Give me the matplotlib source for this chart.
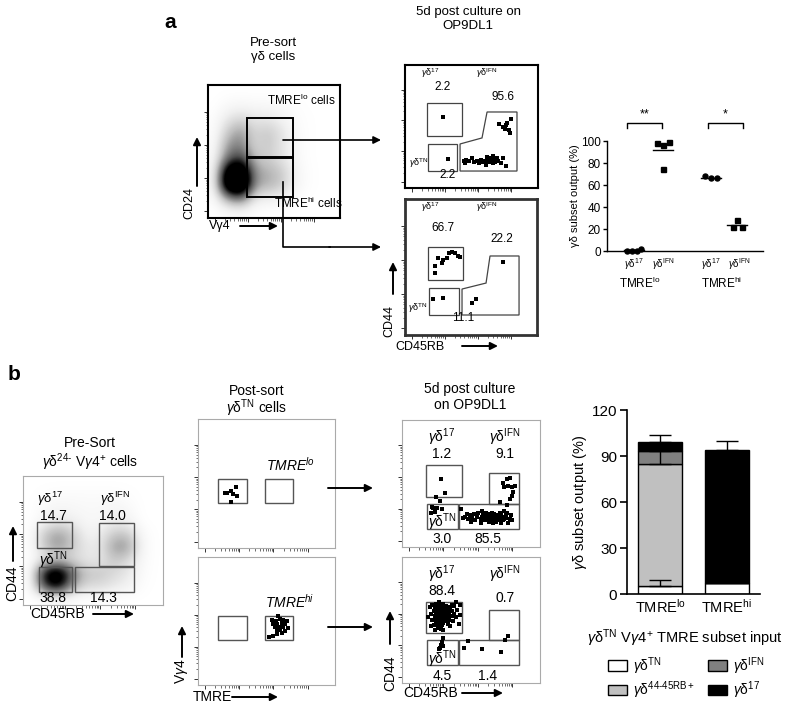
import numpy as np
import matplotlib
matplotlib.use("Agg")
import matplotlib.pyplot as plt
from matplotlib.patches import Rectangle, Polygon

plt.rcParams['font.family'] = ['Liberation Sans', 'DejaVu Sans']
plt.rcParams['mathtext.fontset'] = 'custom'
plt.rcParams['mathtext.rm'] = 'Liberation Sans'
plt.rcParams['mathtext.it'] = 'Liberation Sans:italic'
plt.rcParams['mathtext.bf'] = 'Liberation Sans:bold'

# data
#______________________________________________________________________________
# flow plots use 0-100 units on both axes (log-like display scale)

# a: pre-sort density (rows top -> bottom, cols left -> right)
a_presort_density = [
    [0,   0,   0,   0,   0,   0,   0,   0,    0, 0],
    [0,   0.3, 0.4, 0.3, 0.3, 0.2, 0.1, 0,    0, 0],
    [0.1, 1,   1.5, 1,   1,   0.6, 0.2, 0.05, 0, 0],
    [0.1, 2,   3,   1.5, 2,   1.2, 0.3, 0.05, 0, 0],
    [0.2, 3,   3.5, 1.5, 2,   1.2, 0.4, 0.05, 0, 0],
    [0.3, 4,   5,   2,   1.8, 1.2, 0.4, 0.05, 0, 0],
    [0.4, 8,   9,   3,   2.5, 2,   0.6, 0.1,  0, 0],
    [0.4, 9,   10,  3,   2.5, 2,   0.6, 0.1,  0, 0],
    [0.2, 3,   4,   1,   0.8, 0.6, 0.2, 0,    0, 0],
    [0,   0.2, 0.3, 0.1, 0,   0,   0,   0,    0, 0],
]
a_presort_gate_lo = (29.5, 45.9, 64.4, 75.2)
a_presort_gate_hi = (29.5, 15.8, 64.4, 45.1)

# a: 5d culture of TMRE lo
a_lo_gate17  = (16.5, 42.3, 42.9, 69.1)
a_lo_gateTN  = (17.3, 13.8, 39.1, 35.8)
a_lo_gateIFN = [(41.4, 35.8), (57.9, 40.7), (61.7, 61.8), (84.2, 61.8), (84.2, 13.8), (41.4, 13.8)]
a_lo_cells = [(28.6, 57.7), (32.3, 23.6),
              (44, 22), (46, 23), (48, 22), (50, 24), (52, 21), (54, 22), (56, 20), (57, 23),
              (59, 21), (60, 22), (62, 25), (63, 23), (63, 21), (64, 24), (65, 22), (66, 20),
              (66, 26), (67, 23), (68, 21), (69, 24), (70, 22), (72, 20), (74, 24), (76, 18),
              (45, 20), (61, 19),
              (71, 52), (74, 50), (75, 48), (77, 53), (78, 47), (79, 45), (80, 56), (76, 51)]

# a: 5d culture of TMRE hi
a_hi_gate17  = (17.4, 40.4, 43.9, 64.7)
a_hi_gateTN  = (18.2, 14.7, 40.9, 34.6)
a_hi_gateIFN = [(43.2, 33.8), (61.4, 38.2), (64.4, 58.1), (86.4, 58.1), (86.4, 14.7), (43.2, 14.7)]
a_hi_cells = [(22.7, 50.7), (22.7, 45.6), (25, 56.6), (28.8, 55.1), (28, 53), (31.8, 56.6),
              (33.3, 60.3), (35.6, 61), (37.9, 60.3), (40.2, 58.1), (41.7, 57.4),
              (21.2, 26.5), (28.8, 27.2),
              (74.2, 53.7), (50.8, 23.5), (53.8, 26.5)]

# a: subset output (%)
a_lo17  = [0, 0, 0, 2]
a_loIFN = [98, 96, 99, 75]
a_hi17  = [68, 66, 66]
a_hiIFN = [22, 22, 28]

# b: pre-sort density
b_presort_density = [
    [0, 0,   0,   0,   0,   0,   0,   0,   0,   0],
    [0, 0.1, 0.2, 0.2, 0.2, 0.2, 0.2, 0.1, 0,   0],
    [0, 0.3, 0.5, 0.4, 0.3, 0.3, 0.5, 0.3, 0,   0],
    [0, 0.5, 1,   0.8, 0.4, 0.4, 0.8, 0.6, 0,   0],
    [0, 2,   3,   2,   0.6, 0.8, 2,   2,   0.3, 0],
    [0, 2,   3,   2,   1,   1,   3,   3,   0.4, 0],
    [0, 1,   1.5, 1.5, 1,   1,   2,   1.5, 0.3, 0],
    [0, 6,   8,   4,   2,   2,   1.5, 1,   0.2, 0],
    [0, 5,   7,   3,   1.5, 1.5, 1,   0.7, 0.1, 0],
    [0, 0,   0.2, 0.1, 0,   0,   0,   0,   0,   0],
]
b_gate17  = (10, 44, 35, 64)
b_gateIFN = (54.3, 30.2, 79.3, 63.6)
b_gateTN  = (11.4, 10, 35, 29.5)
b_gate44  = (37, 10, 79.3, 29.5)

# b: post-sort
b_sort_gate1 = (14.6, 35.2, 35.8, 53.8)
b_sort_gate2 = (48.9, 35.2, 69.3, 53.8)
b_sort_lo = [(19.7, 42.6), (21.2, 42.6), (24.1, 44.2), (25.5, 41.9), (27.7, 47.3), (28.5, 40.3), (24.1, 35.7)]
b_sort_hi = [(58.4, 53.9), (54, 50.8), (56.9, 50), (59.9, 51.6), (62, 50.8), (65, 50), (54.7, 47.7),
             (57.7, 47.7), (61.3, 48.4), (63.5, 47.7), (56.2, 45.3), (59.1, 45.3), (62, 45.3),
             (65.7, 44.5), (57.7, 42.2), (59.9, 43), (63.5, 42.2), (57.7, 39.8), (54.7, 38.3),
             (51.8, 37.5), (61.3, 40.6)]

# b: 5d culture gates
b_cult_gate17  = (17.4, 39.4, 43.5, 64.6)
b_cult_gateIFN = (63, 33.9, 84.8, 58.3)
b_cult_gateTN  = (18.1, 14.2, 40.6, 33.9)
b_cult_gate44  = (41.3, 14.2, 84.8, 33.9)
b_cult_lo = [(28.3, 53.5), (31.2, 42.5), (24.6, 39.4), (27.5, 36.2),
             (76.1, 53.5), (78.3, 54.3), (73.2, 50.4), (73.9, 47.2), (76.8, 48), (79.7, 47.2),
             (81.9, 48), (80.4, 43.3), (79.7, 40.2), (78.3, 37.8), (71, 35.4), (76.1, 33.1),
             (21.7, 31.5), (22.5, 30.7), (25.4, 30.7), (29, 29.9), (21, 26.8), (23.9, 27.6),
             (42.8, 29.9),
             (46, 24), (48, 22), (49, 25), (51, 23), (52, 26), (53, 21), (54, 24), (55, 27),
             (50, 20), (47, 26), (57, 19), (58, 28), (78, 22), (79, 25), (77, 19), (80, 21),
             (76, 27), (74, 28), (72, 19), (44, 23),
             (57, 22), (58, 24), (59, 23), (60, 21), (60, 25), (61, 23), (62, 22), (62, 26),
             (63, 24), (64, 21), (64, 23), (65, 25), (66, 22), (66, 24), (67, 21), (67, 26),
             (68, 23), (69, 22), (69, 25), (70, 24), (70, 21), (71, 23), (72, 22), (72, 25),
             (73, 24), (74, 22), (75, 23), (75, 26), (63, 20), (68, 20), (61, 27), (65, 27),
             (71, 27), (59, 26), (66, 19), (73, 21)]
b_cult_hi = [(20, 60), (21, 55), (22, 50), (22, 62), (23, 57), (23, 46), (24, 53), (24, 60),
             (25, 49), (25, 56), (25, 63), (26, 52), (26, 58), (26, 44), (27, 55), (27, 61),
             (27, 48), (28, 53), (28, 57), (28, 50), (29, 55), (29, 60), (29, 46), (30, 52),
             (30, 57), (30, 63), (31, 54), (31, 49), (31, 59), (32, 56), (32, 51), (32, 61),
             (33, 53), (33, 47), (33, 58), (34, 55), (34, 50), (35, 60), (35, 45), (36, 53),
             (36, 57), (37, 49), (38, 55), (38, 61), (39, 52), (40, 58), (41, 47), (42, 54),
             (42, 62), (19, 52), (21, 45), (24, 42), (28, 43), (30, 42), (36, 62), (39, 64),
             (27, 64), (23, 50), (29, 51), (31, 52), (27, 51), (28, 59), (30, 48), (26, 47),
             (29.7, 35.7), (29, 32.5), (27.5, 27.8), (26.8, 27), (28, 30), (30, 29),
             (76.8, 37.3),
             (47.8, 33.3), (44.9, 27.8), (58, 27), (71.7, 24.6), (74.6, 34.1)]

# b: stacked bars (%)
b_inputs  = [r"TMRE$^{\mathrm{lo}}$", r"TMRE$^{\mathrm{hi}}$"]
b_TN      = [5, 7]
b_44      = [80, 0]
b_IFN     = [8, 0]
b_17      = [6, 87]
b_err_TN  = [4, 0]
b_err_44  = [8, 0]
b_err_top = [5, 6]

# layout helpers
#______________________________________________________________________________
W, H = 800, 709
fig = plt.figure(figsize=(8, 7.09), dpi=100)


def rect(l, t, r, b):
    return [l / W, 1 - b / H, (r - l) / W, (b - t) / H]


def flow_axes(box, color='k', lw=1.5):
    ax = fig.add_axes(rect(*box))
    ax.set_xlim(0, 100)
    ax.set_ylim(0, 100)
    for s in ax.spines.values():
        s.set_color(color)
        s.set_linewidth(lw)
    major = [5, 30, 55, 80]
    minor = [d + 25 * np.log10(k) for d in major[:-1] for k in range(2, 10)]
    ax.set_xticks(major)
    ax.set_yticks(major)
    ax.set_xticks(minor, minor=True)
    ax.set_yticks(minor, minor=True)
    ax.tick_params(which='major', length=3, width=0.7, color='#333333')
    ax.tick_params(which='minor', length=1.8, width=0.5, color='#333333')
    ax.tick_params(which='both', direction='out', labelbottom=False, labelleft=False)
    return ax


def gate(ax, g, color='#444444', lw=0.9):
    x0, y0, x1, y1 = g
    ax.add_patch(Rectangle((x0, y0), x1 - x0, y1 - y0, fill=False, ec=color, lw=lw))


def dots(ax, pts, ms=2.2):
    p = np.array(pts)
    ax.plot(p[:, 0], p[:, 1], 's', color='k', ms=ms, mew=0)


def density(ax, grid):
    ax.imshow(np.array(grid), extent=(0, 100, 0, 100), origin='upper', cmap='Greys',
              vmin=0, vmax=6, interpolation='bicubic', aspect='auto')
    ax.set_xlim(0, 100)
    ax.set_ylim(0, 100)


# panel a flow plots
#______________________________________________________________________________
ax = flow_axes((208, 85, 340, 218))
density(ax, a_presort_density)
gate(ax, a_presort_gate_lo, 'k', 1.4)
gate(ax, a_presort_gate_hi, 'k', 1.4)

ax = flow_axes((405, 65, 538, 188))
gate(ax, a_lo_gate17)
gate(ax, a_lo_gateTN)
ax.add_patch(Polygon(a_lo_gateIFN, closed=True, fill=False, ec='#444444', lw=0.9))
dots(ax, a_lo_cells)

ax = flow_axes((405, 199, 537, 335), '#333333', 2.0)
gate(ax, a_hi_gate17)
gate(ax, a_hi_gateTN)
ax.add_patch(Polygon(a_hi_gateIFN, closed=True, fill=False, ec='#444444', lw=0.9))
dots(ax, a_hi_cells)

# panel a dot plot
#______________________________________________________________________________
ax = fig.add_axes(rect(607, 141, 763, 251))
ax.set_xlim(0, 10)
ax.set_ylim(0, 100)
ax.spines[['top', 'right']].set_visible(False)
ax.spines[['left', 'bottom']].set_linewidth(1.0)
ax.set_xticks([])
ax.set_yticks(np.arange(0, 101, 20))
ax.tick_params(axis='y', labelsize=8.5, length=3, width=1, pad=1.5)
groups = [(1.75, a_lo17, 'o', [-0.45, -0.15, 0.15, 0.45]),
          (3.6, a_loIFN, 's', [-0.4, 0, 0.4, 0]),
          (6.65, a_hi17, 'o', [-0.4, 0, 0.4]),
          (8.35, a_hiIFN, 's', [-0.3, 0.3, 0])]
for xc, vals, mk, off in groups:
    ax.plot(xc + np.array(off), vals, mk, color='k', ms=3.6, clip_on=False)
    ax.plot([xc - 0.65, xc + 0.65], [np.mean(vals)] * 2, color='k', lw=1.0, clip_on=False)
for x0, x1, star in [(1.3, 3.5, '**'), (6.5, 8.7, '*')]:
    ax.plot([x0, x0, x1, x1], [112, 116, 116, 112], color='k', lw=1.0, clip_on=False)
    ax.text((x0 + x1) / 2, 119, star, ha='center', va='bottom', fontsize=9)

# panel b flow plots
#______________________________________________________________________________
gc = '#555555'
ax = flow_axes((23, 476, 163, 605), '#aaaaaa', 0.8)
density(ax, b_presort_density)
for g in (b_gate17, b_gateIFN, b_gateTN, b_gate44):
    gate(ax, g, gc, 1.0)

ax = flow_axes((198, 419, 335, 548), '#aaaaaa', 0.8)
gate(ax, b_sort_gate1, gc, 1.0)
gate(ax, b_sort_gate2, gc, 1.0)
dots(ax, b_sort_lo)

ax = flow_axes((198, 557, 335, 685), '#aaaaaa', 0.8)
gate(ax, b_sort_gate1, gc, 1.0)
gate(ax, b_sort_gate2, gc, 1.0)
dots(ax, b_sort_hi)

ax = flow_axes((402, 420, 540, 547), '#aaaaaa', 0.8)
for g in (b_cult_gate17, b_cult_gateIFN, b_cult_gateTN, b_cult_gate44):
    gate(ax, g, gc, 1.0)
dots(ax, b_cult_lo)

ax = flow_axes((402, 557, 540, 683), '#aaaaaa', 0.8)
for g in (b_cult_gate17, b_cult_gateIFN, b_cult_gateTN, b_cult_gate44):
    gate(ax, g, gc, 1.0)
dots(ax, b_cult_hi)

# panel b stacked bars
#______________________________________________________________________________
ax = fig.add_axes(rect(627, 410, 760, 594))
xb = np.array([0, 1.5])
TN, S44, IFN, S17 = map(np.array, (b_TN, b_44, b_IFN, b_17))
h1 = ax.bar(xb, TN, 1.0, color='white', ec='k', lw=1)
h2 = ax.bar(xb, S44, 1.0, bottom=TN, color='#c0c0c0', ec='k', lw=1)
h3 = ax.bar(xb, IFN, 1.0, bottom=TN + S44, color='#808080', ec='k', lw=1)
h4 = ax.bar(xb, S17, 1.0, bottom=TN + S44 + IFN, color='black', ec='k', lw=1)
eb = dict(fmt='none', ecolor='k', elinewidth=1, capsize=8, capthick=1)
ax.errorbar(xb[:1], TN[:1], yerr=[[0], b_err_TN[:1]], **eb)
ax.errorbar(xb[:1], (TN + S44)[:1], yerr=[[0], b_err_44[:1]], **eb)
top = TN + S44 + IFN + S17
ax.errorbar(xb, top, yerr=[[0, 0], b_err_top], **eb)
ax.set_xlim(-0.75, 2.25)
ax.set_ylim(0, 120)
ax.set_yticks([0, 30, 60, 90, 120])
ax.set_xticks(xb, b_inputs)
ax.spines[['top', 'right']].set_visible(False)
ax.spines[['left', 'bottom']].set_linewidth(1.2)
ax.tick_params(axis='y', labelsize=11, length=5, width=1.2, pad=2)
ax.tick_params(axis='x', labelsize=10.5, length=0, pad=3)
ax.set_ylabel(r"$\gamma$δ subset output (%)", fontsize=10.5, labelpad=2)
ax.legend([h1, h2, h3, h4],
          [r"$\gamma$δ$^{\mathrm{TN}}$", r"$\gamma$δ$^{\mathrm{44\text{-}45RB+}}$",
           r"$\gamma$δ$^{\mathrm{IFN}}$", r"$\gamma$δ$^{\mathrm{17}}$"],
          ncol=2, frameon=False, fontsize=10, handlelength=1.4, handleheight=0.8,
          columnspacing=0.9, handletextpad=0.4, labelspacing=0.2,
          borderaxespad=0, borderpad=0,
          loc='upper left', bbox_to_anchor=(608 / W, 1 - 655 / H), bbox_transform=fig.transFigure)

# overlay: labels and arrows in pixel units
#______________________________________________________________________________
ov = fig.add_axes([0, 0, 1, 1], zorder=10)
ov.set_xlim(0, W)
ov.set_ylim(H, 0)
ov.axis('off')
ov.patch.set_alpha(0)


def t(x, y, s, size=9, **kw):
    ov.text(x, y, s, fontsize=size, ha=kw.pop('ha', 'center'), va=kw.pop('va', 'center'), **kw)


def arrow(x0, y0, x1, y1, lw=1.4):
    ov.annotate('', xy=(x1, y1), xytext=(x0, y0),
                arrowprops=dict(arrowstyle='-|>', color='k', lw=lw, mutation_scale=11, shrinkA=0, shrinkB=0))


g17 = r"$\gamma$δ$^{\mathrm{17}}$"
gIFN = r"$\gamma$δ$^{\mathrm{IFN}}$"
gTN = r"$\gamma$δ$^{\mathrm{TN}}$"

# a
t(170, 22, "a", 15, fontweight='bold')
t(273, 43, "Pre-sort", 9.5)
t(273, 57, "γδ cells", 9.5)
t(468, 12, "5d post culture on", 9.5)
t(468, 26, "OP9DL1", 9.5)
t(301, 100, r"TMRE$^{\mathrm{lo}}$ cells", 8.5)
t(308, 203, r"TMRE$^{\mathrm{hi}}$ cells", 8.5)
t(189, 203, "CD24", 9, rotation=90)
arrow(197, 186, 197, 137)
t(220, 226, "Vγ4", 9)
arrow(240, 226, 278, 226)
arrow(283, 140, 381, 140, 1.2)
ov.plot([283, 283, 330], [182, 247, 247], color='k', lw=1.2)
arrow(329, 247, 381, 247, 1.2)

for dy in (0, 134):
    t(430, 73 + dy, g17, 6.5)
    t(487, 73 + dy, gIFN, 6.5)
t(419, 163, gTN, 6.5)
t(418, 308, gTN, 6.5)
t(443, 87, "2.2", 8.5)
t(503, 97, "95.6", 8.5)
t(448, 175, "2.2", 8.5)
t(443, 228, "66.7", 8.5)
t(502, 239, "22.2", 8.5)
t(463, 318, "11.1", 8.5)
t(389, 321, "CD44", 9, rotation=90)
arrow(393, 294, 393, 262)
t(420, 347, "CD45RB", 9)
arrow(462, 346, 498, 346)

t(634, 264, g17, 7)
t(663, 264, gIFN, 7)
t(711, 264, g17, 7)
t(739, 264, gIFN, 7)
t(640, 283, r"TMRE$^{\mathrm{lo}}$", 8.5)
t(722, 283, r"TMRE$^{\mathrm{hi}}$", 8.5)
t(575, 196, "γδ subset output (%)", 8, rotation=90)

# b
t(14, 375, "b", 15, fontweight='bold')
t(90, 443, "Pre-Sort", 10)
t(90, 462, r"$\gamma$δ$^{\mathrm{24\text{-}}}$ V$\gamma$4$^{\mathrm{+}}$ cells", 10)
t(50, 499, g17, 9.5)
t(53, 516, "14.7", 10)
t(115, 499, gIFN, 9.5)
t(112, 516, "14.0", 10)
t(53, 560, gTN, 10)
t(53, 598, "38.8", 10)
t(103, 598, "14.3", 10)
t(12, 583, "CD44", 10, rotation=90)
arrow(13, 561, 13, 526)
t(58, 614, "CD45RB", 10)
arrow(93, 614, 134, 614)

t(257, 391, "Post-sort", 10)
t(257, 408, gTN + " cells", 10)
t(290, 465, "TMRE$^{lo}$", 10, fontstyle='italic')
t(290, 602, "TMRE$^{hi}$", 10, fontstyle='italic')
t(182, 671, r"V$\gamma$4", 10, rotation=90)
arrow(182, 657, 182, 626)
t(212, 697, "TMRE", 10)
arrow(232, 697, 278, 697)
arrow(328, 488, 373, 488)
arrow(328, 627, 373, 627)

t(470, 389, "5d post culture", 10)
t(470, 405, "on OP9DL1", 10)
for dy, vals in ((0, ("1.2", "9.1", "3.0", "85.5")), (137, ("88.4", "0.7", "4.5", "1.4"))):
    t(442, 437 + dy, g17, 10)
    t(442, 454 + dy, vals[0], 10)
    t(505, 437 + dy, gIFN, 10)
    t(442, 522 + dy, gTN, 10)
    t(442, 539 + dy, vals[2], 10)
    t(488, 539 + dy, vals[3], 10)
t(505, 454, "9.1", 10)
t(505, 598, "0.7", 10)
t(390, 673, "CD44", 10, rotation=90)
arrow(390, 644, 390, 611)
t(431, 693, "CD45RB", 10)
arrow(462, 693, 503, 693)

t(685, 638, gTN + r" V$\gamma$4$^{\mathrm{+}}$ TMRE subset input", 10.5)

fig.savefig("out.png", dpi=100)
